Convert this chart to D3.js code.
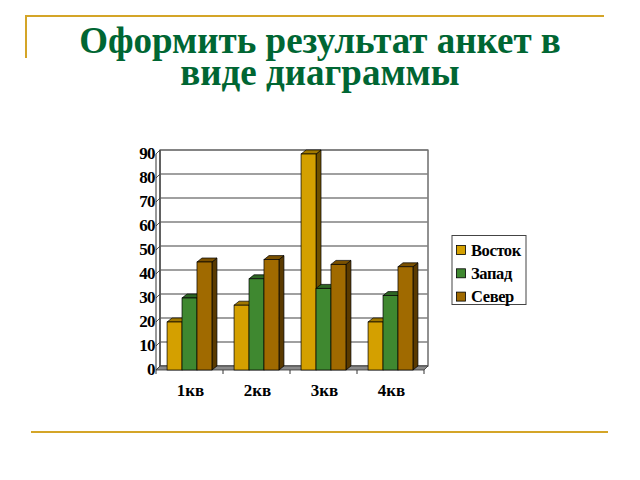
<!DOCTYPE html>
<html><head><meta charset="utf-8">
<script src="https://cdn.jsdelivr.net/npm/d3@7"></script>
<style>body{margin:0;background:#fff}svg{display:block}</style>
</head><body>
<svg id="c" width="640" height="480"></svg>
<script>
const titleLines = ["Оформить результат анкет в", "виде диаграммы"];
const categories = ["1кв", "2кв", "3кв", "4кв"];
const seriesNames = ["Восток", "Запад", "Север"];
const vostok = [20, 27, 90, 20];
const zapad = [30, 38, 34, 31];
const sever = [45, 46, 44, 43];
const yTicks = [0, 10, 20, 30, 40, 50, 60, 70, 80, 90];

const seriesValues = [vostok, zapad, sever];
const colors = ["#D4A000", "#3F8830", "#A06A00"];
const sideColors = ["#6E5000", "#1F4A18", "#5A3A00"];
const topColors = ["#A07800", "#2E6624", "#7A5000"];

const svg = d3.select("#c");
const gold = "#D4A528";
const font = "'Liberation Serif','Times New Roman',serif";

// decorative lines
svg.append("line").attr("x1",26).attr("y1",16).attr("x2",604).attr("y2",16).attr("stroke",gold).attr("stroke-width",2);
svg.append("line").attr("x1",26).attr("y1",15).attr("x2",26).attr("y2",58).attr("stroke",gold).attr("stroke-width",2);
svg.append("line").attr("x1",31).attr("y1",432).attr("x2",608).attr("y2",432).attr("stroke",gold).attr("stroke-width",2);

// title (one text, two lines)
const title = svg.append("text").attr("text-anchor","middle").attr("font-family",font)
  .attr("font-weight","bold").attr("font-size",37).attr("fill","#006633");
title.selectAll("tspan").data(titleLines).enter().append("tspan")
  .attr("x",320).attr("y",(d,i)=>53+i*32).text(d=>d);

// 3D geometry
const dx = 4, dy = -4;
const x0 = 156, x1 = 424;
const y = d3.scaleLinear().domain([0, 90]).range([370, 154]);
const xb = d3.scaleBand().domain(categories).range([x0, x1]).paddingInner(0.33).paddingOuter(0.165);
const xs = d3.scaleBand().domain(seriesNames).range([0, xb.bandwidth()]);

const g = svg.append("g");
// back wall
g.append("rect").attr("x",x0+dx).attr("y",y(90)+dy).attr("width",x1-x0).attr("height",y(0)-y(90))
  .attr("fill","#fff").attr("stroke","#222").attr("stroke-width",1);
// gridlines on back wall + left wall
yTicks.forEach(t=>{
  g.append("line").attr("x1",x0+dx).attr("x2",x1+dx).attr("y1",y(t)+dy).attr("y2",y(t)+dy)
    .attr("stroke","#808080").attr("stroke-width",1.3);
  g.append("line").attr("x1",x0).attr("x2",x0+dx).attr("y1",y(t)).attr("y2",y(t)+dy)
    .attr("stroke","#555").attr("stroke-width",1);
});
// left wall verticals
g.append("line").attr("x1",x0).attr("x2",x0).attr("y1",y(90)).attr("y2",y(0)).attr("stroke","#333");
g.append("line").attr("x1",x0+dx).attr("x2",x0+dx).attr("y1",y(90)+dy).attr("y2",y(0)+dy).attr("stroke","#333");
// floor
g.append("path").attr("d",`M${x0},${y(0)}L${x1},${y(0)}L${x1+dx},${y(0)+dy}L${x0+dx},${y(0)+dy}Z`)
  .attr("fill","#8a8a8a").attr("stroke","#333").attr("stroke-width",0.8);
// category ticks
d3.range(categories.length+1).forEach(i=>{
  const xx = x0 + i*xb.step();
  g.append("line").attr("x1",xx).attr("x2",xx).attr("y1",y(0)).attr("y2",y(0)+4).attr("stroke","#333");
});

// bars
const bd = 5, bdy = -4;
categories.forEach((c,ci)=>{
  seriesNames.forEach((s,si)=>{
    const v = seriesValues[si][ci];
    const bx = xb(c) + xs(s), bw = xs.bandwidth();
    const top = y(v), bot = y(0);
    g.append("path").attr("d",`M${bx+bw},${top}L${bx+bw+bd},${top+bdy}L${bx+bw+bd},${bot+bdy}L${bx+bw},${bot}Z`)
      .attr("fill",sideColors[si]).attr("stroke","#000").attr("stroke-width",0.7);
    g.append("path").attr("d",`M${bx},${top}L${bx+bd},${top+bdy}L${bx+bw+bd},${top+bdy}L${bx+bw},${top}Z`)
      .attr("fill",topColors[si]).attr("stroke","#000").attr("stroke-width",0.7);
    g.append("rect").attr("x",bx).attr("y",top).attr("width",bw).attr("height",bot-top)
      .attr("fill",colors[si]).attr("stroke","#000").attr("stroke-width",0.7);
  });
});

// y labels
g.selectAll("text.yl").data(yTicks).enter().append("text").attr("class","yl")
  .attr("x",x0-1).attr("y",d=>y(d)+5).attr("text-anchor","end")
  .attr("font-family",font).attr("font-weight","bold").attr("font-size",17).attr("letter-spacing",-0.6)
  .text(d=>d);
// x labels
g.selectAll("text.xl").data(categories).enter().append("text").attr("class","xl")
  .attr("x",d=>xb(d)+xb.bandwidth()/2+1).attr("y",396).attr("text-anchor","middle")
  .attr("font-family",font).attr("font-weight","bold").attr("font-size",17)
  .text(d=>d);

// legend
const lg = svg.append("g");
lg.append("rect").attr("x",452).attr("y",235.5).attr("width",74).attr("height",69)
  .attr("fill","#fff").attr("stroke","#444").attr("stroke-width",1);
seriesNames.forEach((s,i)=>{
  const cy = 250 + i*23.3;
  lg.append("rect").attr("x",456.5).attr("y",cy-4.5).attr("width",9).attr("height",9)
    .attr("fill",colors[i]).attr("stroke","#000").attr("stroke-width",0.8);
  lg.append("text").attr("x",471).attr("y",cy+5.5).attr("font-family",font).attr("font-weight","bold")
    .attr("font-size",16.5).attr("letter-spacing",-0.4).text(s);
});
</script>
</body></html>
